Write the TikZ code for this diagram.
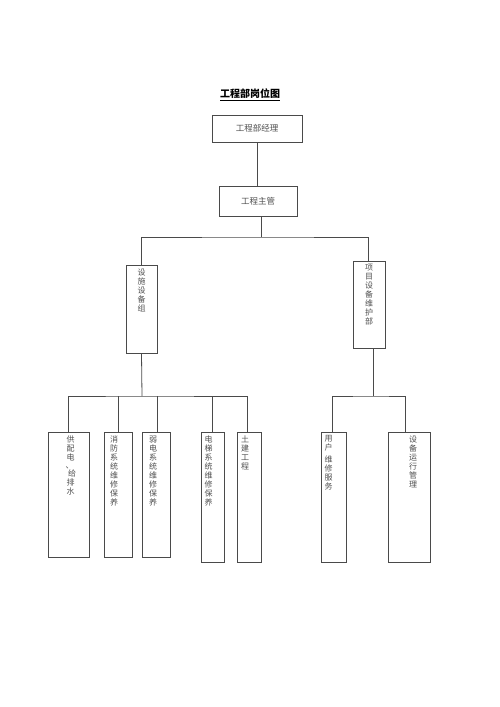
\documentclass[tikz,border=0pt]{standalone}
\usepackage{fontspec}
\newfontfamily\cjk{Noto Sans CJK SC}
\usetikzlibrary{fit}
\definecolor{lnc}{HTML}{4A4A4A}
\definecolor{txc}{HTML}{505050}
\tikzset{
  orgbox/.style={draw=lnc, line width=0.8pt, inner sep=0pt, fill=white},
  vtext/.style={text=txc, font=\cjk\fontsize{8}{9}\selectfont, align=center, inner sep=0pt, anchor=north},
  htext/.style={text=txc, font=\cjk\fontsize{8.5}{10}\selectfont, inner sep=0pt},
  conn/.style={draw=lnc, line width=0.8pt}
}
\begin{document}
\begin{tikzpicture}[x=1pt,y=-1pt]
\useasboundingbox[fill=white] (0,0) rectangle (500,707);

% title
\node[font=\cjk\bfseries\fontsize{10}{12}\selectfont, text=black, inner sep=0pt] (title) at (250,95) {\underline{工程部岗位图}};

% top boxes
\node[orgbox, fit={(212,115) (302,142)}] (mgr) {};
\node[htext] (mgrt) at (mgr.center) {工程部经理};
\node[orgbox, fit={(219,186) (297,216)}] (sup) {};
\node[htext] (supt) at (sup.center) {工程主管};

% second level
\node[orgbox, fit={(126,265) (157,353)}] (g1) {};
\node[vtext] (g1t) at ([yshift=-4pt]g1.north) {设\\施\\设\\备\\组};
\node[orgbox, fit={(353,261) (385,348)}] (g2) {};
\node[vtext] (g2t) at ([yshift=-3pt]g2.north) {项\\目\\设\\备\\维\\护\\部};

% third level
\node[orgbox, fit={(48,432) (89,557)}] (b1) {};
\node[vtext] (b1t) at ([xshift=2pt,yshift=-4pt]b1.north) {供\\配\\电\\[-1pt]{\hspace*{-2pt}、}\\[-1pt]{\hspace*{3pt}给}\\排\\水};
\node[orgbox, fit={(104,432) (132,557)}] (b2) {};
\node[vtext] (b2t) at ([xshift=-4pt,yshift=-4pt]b2.north) {消\\防\\系\\统\\维\\修\\保\\养};
\node[orgbox, fit={(142,432) (170,557)}] (b3) {};
\node[vtext] (b3t) at ([xshift=-3pt,yshift=-4pt]b3.north) {弱\\电\\系\\统\\维\\修\\保\\养};
\node[orgbox, fit={(201,432) (224,562)}] (b4) {};
\node[vtext] (b4t) at ([xshift=-4pt,yshift=-4pt]b4.north) {电\\梯\\系\\统\\维\\修\\保\\养};
\node[orgbox, fit={(237,432) (261,562)}] (b5) {};
\node[vtext] (b5t) at ([xshift=-4pt,yshift=-4pt]b5.north) {土\\建\\工\\程};
\node[orgbox, fit={(321,432) (346,562)}] (b6) {};
\node[vtext] (b6t) at ([xshift=-5pt,yshift=-4pt]b6.north) {用\\户\\[3pt]维\\修\\服\\务};
\node[orgbox, fit={(388,432) (430,562)}] (b7) {};
\node[vtext] (b7t) at ([xshift=4pt,yshift=-4pt]b7.north) {设\\备\\运\\行\\管\\理};

% connectors
\coordinate (bus1) at (261,237);
\coordinate (bus2) at (142,396);
\coordinate (bus3) at (373,396);
\draw[conn] (mgr.south) -- (mgr.south |- sup.north);
\draw[conn] ([xshift=3pt]sup.south) -- (bus1);
\draw[conn] (g1.north) |- (bus1) -| ([xshift=-1pt]g2.north);
\draw[conn] (g1.south) -- (bus2);
\draw[conn] ([xshift=-0.5pt]b1.north) |- (bus2) -| ([xshift=-2pt]b5.north);
\draw[conn] (b2.north) -- (b2.north |- bus2);
\draw[conn] ([xshift=1pt]b3.north) -- ([xshift=1pt]b3.north |- bus2);
\draw[conn] (b4.north) -- (b4.north |- bus2);
\draw[conn] ([xshift=4pt]g2.south) -- (bus3);
\draw[conn] ([xshift=-1.5pt]b6.north) |- (bus3) -| ([xshift=-4pt]b7.north);
\end{tikzpicture}
\end{document}
